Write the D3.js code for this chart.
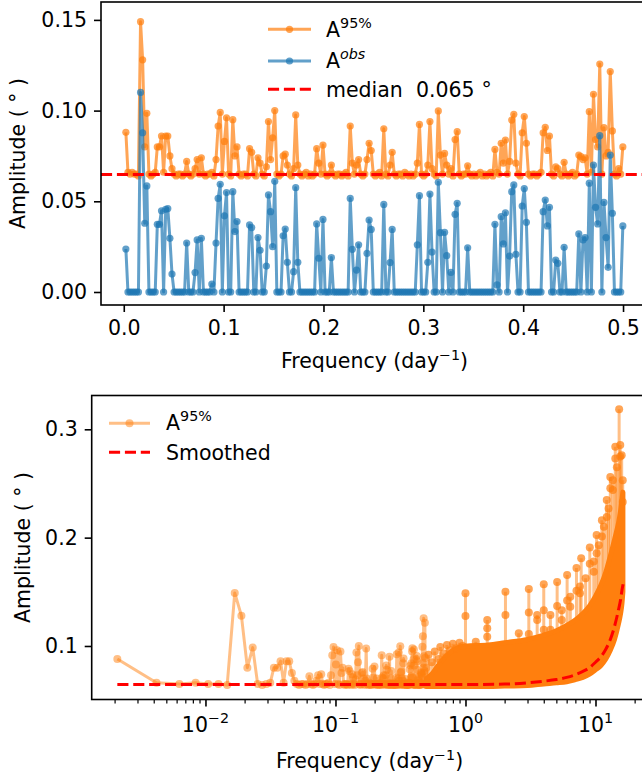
<!DOCTYPE html>
<html><head><meta charset="utf-8">
<script src="https://cdn.jsdelivr.net/npm/d3@7"></script>
<style>
body{margin:0;background:#fff}
svg{display:block}
text{font-family:"DejaVu Sans",sans-serif;fill:#000;white-space:pre}
</style>
</head><body>
<svg id="chart" width="642" height="774"></svg>
<script>
// ---------- data ----------
const freqStep = 0.0021; // frequency grid spacing (day^-1)
const a95 = [
0.088,0.066,0.065,0.066,0.065,0.065,0.064,0.149,0.128,0.080,
0.0985,0.065,0.064,0.065,0.066,0.080,0.080,0.086,0.066,0.086,
0.086,0.075,0.068,0.065,0.064,0.065,0.065,0.064,0.065,0.072,
0.065,0.064,0.065,0.068,0.073,0.065,0.074,0.065,0.064,0.065,
0.065,0.066,0.064,0.073,0.0915,0.099,0.065,0.083,0.096,0.065,
0.064,0.095,0.075,0.080,0.065,0.064,0.065,0.065,0.064,0.079,
0.077,0.065,0.064,0.074,0.071,0.065,0.064,0.069,0.094,0.073,
0.085,0.100,0.065,0.064,0.065,0.075,0.076,0.070,0.065,0.064,
0.068,0.0976,0.070,0.065,0.064,0.065,0.066,0.064,0.065,0.064,
0.065,0.079,0.071,0.065,0.081,0.065,0.064,0.065,0.070,0.065,
0.064,0.065,0.065,0.064,0.065,0.066,0.064,0.0915,0.071,0.065,
0.070,0.073,0.065,0.064,0.065,0.073,0.082,0.078,0.065,0.064,
0.065,0.066,0.064,0.090,0.065,0.064,0.070,0.077,0.065,0.064,
0.065,0.065,0.064,0.066,0.065,0.064,0.065,0.064,0.065,0.071,
0.0924,0.065,0.064,0.065,0.070,0.094,0.068,0.065,0.064,0.0998,
0.0755,0.065,0.0764,0.070,0.065,0.068,0.064,0.084,0.0884,0.065,
0.064,0.065,0.065,0.0696,0.065,0.064,0.065,0.064,0.065,0.066,
0.064,0.065,0.064,0.065,0.066,0.064,0.0786,0.066,0.065,0.082,
0.071,0.0838,0.065,0.072,0.0948,0.098,0.071,0.065,0.064,0.0878,
0.0967,0.082,0.065,0.064,0.065,0.065,0.064,0.065,0.066,0.0878,
0.0908,0.078,0.086,0.065,0.064,0.069,0.068,0.065,0.064,0.0715,
0.065,0.064,0.065,0.066,0.064,0.065,0.0755,0.0746,0.073,0.074,
0.065,0.0994,0.066,0.109,0.084,0.080,0.1257,0.065,0.0906,0.075,
0.077,0.1215,0.0888,0.065,0.064,0.068,0.065,0.080
];
const aObs = [
0.0237,0,0,0,0,0,0,0.110,0.0878,0.0379,
0.0585,0,0,0,0,0.0373,0.0373,0.0448,0,0.0456,
0.046,0.0296,0.0099,0,0,0,0,0,0,0.027,
0,0,0,0.0107,0.0287,0,0.0296,0,0,0,
0,0.0044,0,0.027,0.0516,0.0594,0,0.042,0.0548,0,
0,0.0553,0.0333,0.0388,0,0,0,0,0,0.037,
0.0355,0,0,0.030,0.023,0,0,0.0143,0.0535,0.0443,
0.025,0.061,0,0,0,0.031,0.0347,0.0164,0,0,
0.0112,0.0575,0.0164,0,0,0,0,0,0,0,
0,0.0375,0.0186,0,0.040,0,0,0,0.019,0,
0,0,0,0,0,0,0,0.0516,0.0235,0,
0.0121,0.026,0,0,0,0.0213,0.0397,0.0345,0,0,
0,0,0,0.0483,0,0,0.0162,0.0345,0,0,
0,0,0,0,0,0,0,0,0,0.026,
0.0531,0,0,0,0.0164,0.054,0.022,0,0,0.0605,
0.0327,0,0.0329,0.020,0,0.0108,0,0.0428,0.0489,0,
0,0,0,0.0244,0,0,0,0,0,0,
0,0,0,0,0,0,0.0373,0.0039,0,0.0415,
0.0265,0.0437,0,0.0198,0.0553,0.059,0.0208,0,0,0.0474,
0.057,0.0384,0,0,0,0,0,0,0,0.0443,
0.0507,0.0364,0.0467,0,0,0.0176,0.0158,0,0,0.0246,
0,0,0,0,0,0,0.032,0,0.0287,0.030,
0,0.060,0,0.070,0.0467,0.0375,0.0862,0,0.0494,0.030,
0.0136,0.0755,0.0434,0,0,0,0,0.0364
];
const medianValue = 0.0648;

// high-frequency dense band (beyond 0.5 day^-1): envelope
const bandFreq  = [0.50, 0.55, 0.60, 0.70, 0.80, 0.90, 1.0, 1.5, 2.0, 3.0, 4.0, 5.0, 6.0, 7.0, 8.0, 9.0, 10.0, 11.0, 12.0, 13.0, 14.0, 15.0, 15.6, 16.0, 16.25];
const bandUpper = [0.070, 0.074, 0.080, 0.090, 0.096, 0.099, 0.100, 0.101, 0.103, 0.106, 0.110, 0.114, 0.119, 0.124, 0.130, 0.137, 0.146, 0.156, 0.168, 0.183, 0.198, 0.213, 0.225, 0.236, 0.242];
const bandLower = [0.0625,0.0625,0.0625,0.0625,0.0625,0.0625,0.0625,0.0625,0.063,0.0635,0.065,0.066,0.067,0.069,0.071,0.074,0.078,0.082,0.088,0.096,0.106,0.120,0.130,0.140,0.150];

// isolated peaks standing above the band
const spikeFreq = [0.52,0.55,0.58,0.62,0.64,0.68,0.72,0.76,0.80,0.85,0.90,0.95,1.00,1.2,1.47,2.03,2.57,3.07,3.56,4.0,4.5,5.07,5.5,6.05,6.4,7.14,7.6,7.76,8.4,9.04,9.7,10.2,10.6,11.2,11.6,12.2,12.6,13.0,13.6,14.2,14.6,15.2,15.5,15.9,16.2];
const spikeAmp = [[0.092],[0.085],[0.095],[0.088],[0.099],[0.093],[0.101],[0.096],[0.102],[0.098],[0.103],[0.100],
[0.1487,0.1277],[0.104],[0.124,0.1163,0.1086],[0.150,0.1286],[0.1117],[0.1525,0.131,0.111],[0.1286,0.124],
[0.157,0.133,0.115],[0.1286,0.115],[0.159,0.137],[0.133,0.124],[0.1655,0.142],[0.1455,0.1363],[0.172,0.151],
[0.155,0.1487],[0.181],[0.1625],[0.191,0.176],[0.178,0.1686],[0.2025,0.1856],[0.193],[0.216,0.201],[0.210],
[0.2348,0.219],[0.227],[0.256,0.2456],[0.253,0.244],[0.284,0.273],[0.265],[0.3185],[0.2856,0.2748],[0.276],[0.253,0.233]];

// smoothed curve
const smoothFreq = [0.0021, 0.01, 0.1, 1.0, 2.0, 3.0, 4.0, 5.0, 6.0, 7.0, 8.0, 9.0, 10.0, 11.0, 12.0, 13.0, 14.0, 15.0, 15.6, 16.0, 16.3];
const smoothVal  = [0.0645,0.0645,0.0645,0.0645,0.0648,0.066,0.0675,0.069,0.071,0.0735,0.0765,0.080,0.085,0.090,0.097,0.106,0.118,0.133,0.143,0.152,0.157];

const topXTicks = [0, 0.1, 0.2, 0.3, 0.4, 0.5];
const topYTicks = [0, 0.05, 0.10, 0.15];
const botXTicks = [0.01, 0.1, 1, 10];
const botXExp = ["\u22122", "\u22121", "0", "1"];
const botYTicks = [0.1, 0.2, 0.3];

// ---------- drawing ----------
const ORANGE = "#ff7f0e", BLUE = "#1f77b4", RED = "#ff0000";
const svg = d3.select("#chart");
const FS = 20.5, SUP = 14.3;
const freqs = a95.map((_, i) => (i + 1) * freqStep);

// ===== top panel =====
const T = {l:101, r:647.7, t:2, b:305};
const xT = d3.scaleLinear().domain([-0.0228, 0.5247]).range([T.l, T.r]);
const yT = d3.scaleLinear().domain([-0.00717, 0.15987]).range([T.b, T.t]);

svg.append("clipPath").attr("id","clipT").append("rect")
  .attr("x",T.l).attr("y",T.t).attr("width",T.r-T.l).attr("height",T.b-T.t);
const gT = svg.append("g").attr("clip-path","url(#clipT)");

function series(g, xs, ys, x, y, color, alpha, r, lw){
  const pts = xs.map((f,i)=>[f, ys[i]]);
  g.append("path").datum(pts)
    .attr("d", d3.line().x(d=>x(d[0])).y(d=>y(d[1])))
    .attr("fill","none").attr("stroke",color).attr("stroke-width",lw)
    .attr("stroke-opacity",alpha).attr("stroke-linejoin","round");
  g.append("g").selectAll("circle").data(pts).join("circle")
    .attr("cx",d=>x(d[0])).attr("cy",d=>y(d[1])).attr("r",r)
    .attr("fill",color).attr("fill-opacity",alpha);
}
series(gT, freqs, a95, xT, yT, ORANGE, 0.7, 3.6, 3);
series(gT, freqs, aObs, xT, yT, BLUE, 0.7, 3.6, 3);
gT.append("line").attr("x1",T.l).attr("x2",T.r)
  .attr("y1",yT(medianValue)).attr("y2",yT(medianValue))
  .attr("stroke",RED).attr("stroke-width",3).attr("stroke-dasharray","11.1,4.8");

// axes top
const axXT = svg.append("g").attr("transform",`translate(0,${T.b})`)
  .call(d3.axisBottom(xT).tickValues(topXTicks).tickFormat(d3.format(".1f")).tickSize(7).tickPadding(8.3).tickSizeOuter(0));
const axYT = svg.append("g").attr("transform",`translate(${T.l},0)`)
  .call(d3.axisLeft(yT).tickValues(topYTicks).tickFormat(d3.format(".2f")).tickSize(7).tickPadding(7).tickSizeOuter(0));
[axXT, axYT].forEach(a=>{
  a.select(".domain").remove();
  a.selectAll("line").attr("stroke","#000").attr("stroke-width",1.6);
  a.selectAll("text").attr("font-size",FS).attr("font-family","DejaVu Sans").attr("fill","#000");
});
svg.append("rect").attr("x",T.l).attr("y",T.t).attr("width",T.r-T.l).attr("height",T.b-T.t)
  .attr("fill","none").attr("stroke","#000").attr("stroke-width",1.6);

// labels
function xLabel(x, y){
  const t = svg.append("text").attr("x",x).attr("y",y).attr("text-anchor","middle").attr("font-size",FS);
  t.append("tspan").text("Frequency (day");
  t.append("tspan").attr("dy",-8).attr("font-size",SUP).text("\u22121");
  t.append("tspan").attr("dy",8).text(")");
}
function yLabel(x, y){
  svg.append("text").attr("transform",`translate(${x},${y}) rotate(-90)`)
    .attr("text-anchor","middle").attr("font-size",FS).text("Amplitude ( \u00b0 )");
}
xLabel(374.5, 367.7);
yLabel(24.5, 153.5);

// legend top
function legendLine(x1, x2, y, color, alpha, r, dashed){
  svg.append("line").attr("x1",x1).attr("x2",x2).attr("y1",y).attr("y2",y)
    .attr("stroke",color).attr("stroke-width",3).attr("stroke-opacity",alpha)
    .attr("stroke-dasharray", dashed ? "11.1,4.8" : null);
  if(r) svg.append("circle").attr("cx",(x1+x2)/2).attr("cy",y).attr("r",r)
    .attr("fill",color).attr("fill-opacity",alpha);
}
legendLine(268, 311, 29.3, ORANGE, 0.7, 3.6, false);
legendLine(268, 311, 61, BLUE, 0.7, 3.6, false);
legendLine(268, 311, 89.3, RED, 1, 0, true);
{
  let t = svg.append("text").attr("x",326).attr("y",36.5).attr("font-size",FS);
  t.append("tspan").text("A");
  t.append("tspan").attr("dy",-9).attr("font-size",SUP).text("95%");
  t = svg.append("text").attr("x",326).attr("y",67.5).attr("font-size",FS);
  t.append("tspan").text("A");
  t.append("tspan").attr("dy",-9).attr("font-size",SUP).attr("font-style","italic").text("obs");
  t = svg.append("text").attr("x",326).attr("y",96.5).attr("font-size",FS);
  t.append("tspan").text("median  " + d3.format(".3f")(medianValue));
  t.append("tspan").attr("dx",7).text("\u00b0");
}

// ===== bottom panel =====
const B = {l:91.7, r:647.5, t:395.5, b:699.5};
const xB = d3.scaleLog().domain([Math.pow(10,-2.875), Math.pow(10,1.40)]).range([B.l, B.r]);
const yB = d3.scaleLinear().domain([0.0506, 0.3312]).range([B.b, B.t]);

svg.append("clipPath").attr("id","clipB").append("rect")
  .attr("x",B.l).attr("y",B.t).attr("width",B.r-B.l).attr("height",B.b-B.t);
const gB = svg.append("g").attr("clip-path","url(#clipB)");

// stems of isolated peaks (line segments, light)
const lowerAt = d3.scaleLog().domain(bandFreq).range(bandLower);
spikeFreq.forEach((f,i)=>{
  const top = d3.max(spikeAmp[i]);
  gB.append("line").attr("x1",xB(f)).attr("x2",xB(f))
    .attr("y1",yB(lowerAt(f))).attr("y2",yB(top))
    .attr("stroke",ORANGE).attr("stroke-opacity",0.5).attr("stroke-width",3);
});
// low-frequency part: same A95 series
series(gB, freqs, a95, xB, yB, ORANGE, 0.5, 4, 3);
// dense band
const bandPts = bandFreq.map((f,i)=>[f, bandLower[i], bandUpper[i]]);
gB.append("path").datum(bandPts)
  .attr("d", d3.area().x(d=>xB(d[0])).y0(d=>yB(d[1])).y1(d=>yB(d[2])).curve(d3.curveMonotoneX))
  .attr("fill",ORANGE).attr("stroke",ORANGE).attr("stroke-width",5).attr("stroke-linejoin","round");
// peak markers
spikeFreq.forEach((f,i)=>{
  spikeAmp[i].forEach(v=>{
    gB.append("circle").attr("cx",xB(f)).attr("cy",yB(v)).attr("r",4)
      .attr("fill",ORANGE).attr("fill-opacity",0.7);
  });
});
// smoothed curve
gB.append("path").datum(smoothFreq.map((f,i)=>[f, smoothVal[i]]))
  .attr("d", d3.line().x(d=>xB(d[0])).y(d=>yB(d[1])).curve(d3.curveMonotoneX))
  .attr("fill","none").attr("stroke",RED).attr("stroke-width",3).attr("stroke-dasharray","11.1,4.8");

// axes bottom
const minorTicks = [];
[-3,-2,-1,0,1].forEach(k=>{ for(let m=2;m<=9;m++){ const v=m*Math.pow(10,k); if(v>xB.domain()[0] && v<xB.domain()[1]) minorTicks.push(v);} });
const axXBmin = svg.append("g").attr("transform",`translate(0,${B.b})`)
  .call(d3.axisBottom(xB).tickValues(minorTicks).tickFormat("").tickSize(4).tickSizeOuter(0));
const axXB = svg.append("g").attr("transform",`translate(0,${B.b})`)
  .call(d3.axisBottom(xB).tickValues(botXTicks).tickFormat("").tickSize(7).tickSizeOuter(0));
const axYB = svg.append("g").attr("transform",`translate(${B.l},0)`)
  .call(d3.axisLeft(yB).tickValues(botYTicks).tickFormat(d3.format(".1f")).tickSize(7).tickPadding(7).tickSizeOuter(0));
[axXBmin, axXB, axYB].forEach(a=>{
  a.select(".domain").remove();
  a.selectAll("line").attr("stroke","#000").attr("stroke-width",1.6);
  a.selectAll("text").attr("font-size",FS).attr("font-family","DejaVu Sans").attr("fill","#000");
});
axXBmin.selectAll("line").attr("stroke-width",1.2);
botXTicks.forEach((v,i)=>{
  const t = svg.append("text").attr("x",xB(v)).attr("y",731.7).attr("text-anchor","middle").attr("font-size",FS);
  t.append("tspan").text("10");
  t.append("tspan").attr("dy",-8.5).attr("font-size",SUP).text(botXExp[i]);
});
svg.append("rect").attr("x",B.l).attr("y",B.t).attr("width",B.r-B.l).attr("height",B.b-B.t)
  .attr("fill","none").attr("stroke","#000").attr("stroke-width",1.6);

xLabel(369.6, 767.7);
yLabel(29.5, 547.5);

// legend bottom
legendLine(109, 150, 423.3, ORANGE, 0.5, 4, false);
legendLine(109, 150, 452.3, RED, 1, 0, true);
{
  let t = svg.append("text").attr("x",166).attr("y",430).attr("font-size",FS);
  t.append("tspan").text("A");
  t.append("tspan").attr("dy",-9).attr("font-size",SUP).text("95%");
  svg.append("text").attr("x",166).attr("y",459.5).attr("font-size",FS).text("Smoothed");
}
</script>
</body></html>
